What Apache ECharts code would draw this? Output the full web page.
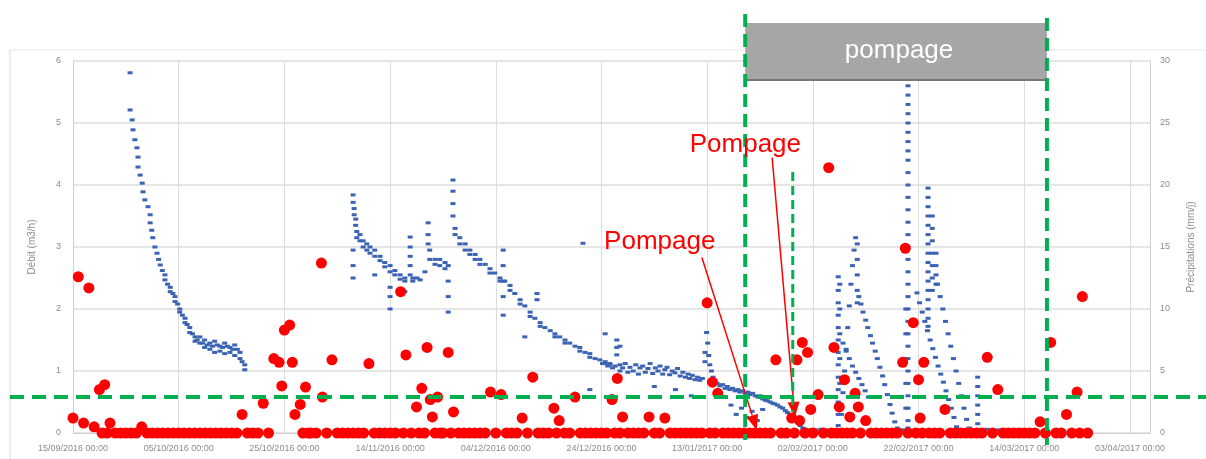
<!DOCTYPE html>
<html>
<head>
<meta charset="utf-8">
<script src="https://cdn.jsdelivr.net/npm/echarts/dist/echarts.min.js"></script>
<style>
  html, body { margin: 0; padding: 0; background: #ffffff; }
  #chart { width: 1206px; height: 459px; }
</style>
</head>
<body>
<div id="chart"></div>
<script>
// x positions are days since the first tick; one tick label every 20 days
const xTickLabels = [
  '15/09/2016 00:00', '05/10/2016 00:00', '25/10/2016 00:00', '14/11/2016 00:00',
  '04/12/2016 00:00', '24/12/2016 00:00', '13/01/2017 00:00', '02/02/2017 00:00',
  '22/02/2017 00:00', '14/03/2017 00:00', '03/04/2017 00:00'
];
const leftTicks = [0, 1, 2, 3, 4, 5, 6];
const rightTicks = [0, 5, 10, 15, 20, 25, 30];

// Flow (m3/h): [day, value]
const flowRecession1 = [
  [10.8,5.81],[10.8,5.21],[11.2,5.05],[11.35,4.89],[11.7,4.73],[12.1,4.6],[12.3,4.45],[12.3,4.29],
  [12.7,4.16],[13.1,4.03],[13.25,3.89],[13.6,3.76],[14.2,3.65],[14.6,3.52],[14.6,3.39],[14.9,3.27],
  [15.1,3.15],[15.5,3.0],[15.9,2.9],[16.2,2.8],[16.5,2.71],[16.9,2.62],[17.4,2.55],[17.4,2.47],
  [17.9,2.4],[18.4,2.35],[18.4,2.28],[18.9,2.25],[19.3,2.2],[19.3,2.12],[19.8,2.08],[20.2,2.0],
  [20.2,1.95],[20.7,1.9],[21.2,1.85],[21.2,1.78],[21.6,1.75],[22.1,1.7],[22.1,1.62],[22.6,1.6],
  [23.1,1.55],[23.1,1.48],[23.5,1.5],[24.0,1.45],[24.0,1.55],[24.5,1.45],[24.9,1.5],[24.9,1.38],
  [25.4,1.42],[25.9,1.45],[25.9,1.35],[26.4,1.4],[26.8,1.48],[26.8,1.3],[27.3,1.42],[27.8,1.4],
  [27.8,1.32],[28.3,1.38],[28.7,1.45],[28.7,1.28],[29.2,1.4],[29.7,1.38],[29.7,1.3],[30.2,1.35],
  [30.6,1.42],[30.6,1.25],[31.1,1.35],[31.6,1.3],[31.6,1.2],[32.0,1.15],[32.5,1.1],[32.5,1.02]
];
const flowRecession2 = [
  [53.0,3.84],[53.0,3.72],[53.2,3.62],[53.2,3.52],[53.5,3.45],[53.5,3.35],[53.7,3.25],[53.7,3.15],
  [54.3,3.2],[54.3,3.1],[54.9,3.1],[54.9,3.0],[55.6,3.05],[55.6,2.95],[56.2,3.0],[56.2,2.9],
  [57.1,2.95],[57.1,2.85],[58.1,2.85],[58.1,2.78],[59.0,2.75],[59.0,2.68],[60.0,2.7],[60.0,2.6],
  [60.9,2.62],[60.9,2.55],[61.9,2.55],[61.9,2.48],[62.8,2.5],[62.8,2.45],[63.8,3.16],[63.8,3.0],
  [63.8,2.85],[63.8,2.7],[63.8,2.55],[64.3,2.5],[64.3,2.45],[65.1,2.5],[65.7,2.47],[66.6,2.6],
  [67.2,3.39],[67.2,3.2],[67.2,3.05],[67.5,2.95],[67.5,2.8],[68.5,2.8],[68.5,2.72],[69.4,2.8],
  [69.4,2.7],[70.4,2.75],[70.4,2.65],[71.0,2.7],[71.9,4.08],[71.9,3.9],[71.9,3.7],[71.9,3.5],
  [72.3,3.3],[72.3,3.2],[73.2,3.15],[73.2,3.05],[74.2,3.05],[74.2,2.95],[75.1,2.95],[75.1,2.88],
  [76.1,2.88],[76.1,2.8],[77.0,2.8],[77.0,2.72],[78.0,2.72],[78.9,2.65],[78.9,2.58],[79.8,2.58],
  [80.8,2.5],[80.8,2.45],[81.7,2.45],[82.7,2.38],[82.7,2.3],[83.6,2.25],[84.6,2.15],[84.6,2.08],
  [85.5,2.05],[86.5,1.95],[86.5,1.88],[87.4,1.85],[88.4,1.78],[88.4,1.72],[89.3,1.7],[90.3,1.65],
  [91.2,1.6],[91.2,1.55],[92.1,1.55],[93.1,1.5],[93.1,1.45],[94.0,1.45],[95.0,1.4],[95.9,1.38],
  [95.9,1.32],[96.9,1.3],[97.8,1.28],[97.8,1.22],[98.8,1.2],[99.7,1.18],[100.7,1.12],[101.6,1.1],
  [102.6,1.08],
  // isolated readings below / above the recession
  [53.0,2.95],[53.0,2.7],[53.0,2.5],[57.1,2.55],[60.0,2.35],[60.0,2.2],[60.0,2.0],[62.8,2.28],
  [71.0,2.45],[71.0,2.2],[71.0,1.95],[81.4,2.95],[81.4,2.7],[81.4,2.45],[81.4,2.2],[81.4,1.9],
  [85.5,1.55],[87.8,2.25],[87.8,2.15],[96.5,3.06],[100.7,1.6],[97.8,0.7],[103.5,1.4]
];
const flowRecession3 = [
  [100.2,1.12],[100.7,1.15],[101.2,1.08],[101.6,1.12],[102.1,1.05],[102.9,1.5],[102.9,1.38],[102.9,1.26],
  [103.5,1.1],[103.5,1.0],[104.0,1.05],[104.5,1.12],[105.0,0.98],[105.4,1.06],[106.0,1.0],[106.5,1.1],
  [107.0,0.95],[107.3,1.05],[107.8,1.08],[108.3,0.98],[108.8,1.04],[109.2,1.12],[109.7,0.96],[110.2,1.05],
  [110.7,1.0],[111.1,1.08],[111.6,0.95],[112.0,1.02],[112.4,1.06],[112.9,0.94],[113.4,1.0],[113.9,0.97],
  [114.4,1.04],[114.9,0.92],[115.4,0.98],[115.9,0.9],[116.4,0.95],[116.7,0.88],[117.2,0.93],[117.7,0.86],
  [118.2,0.9],[118.6,0.85],[119.1,0.88],[119.6,1.3],[119.6,1.15],[119.9,1.62],[120.1,1.45],[120.3,1.25],
  [120.5,1.1],[120.8,1.0],[121.1,0.9],[121.5,0.84],[121.9,0.8],[122.4,0.76],[122.9,0.78],[123.4,0.72],
  [123.8,0.75],[124.3,0.7],[124.8,0.72],[125.3,0.68],[125.8,0.7],[126.2,0.66],[126.7,0.68],[127.2,0.64],
  [127.7,0.66],[128.1,0.62],[128.6,0.64],[129.1,0.6],[129.6,0.58],[130.0,0.6],[130.5,0.55],[131.0,0.53],
  [131.4,0.52],[131.9,0.5],[132.4,0.48],[132.8,0.47],[133.3,0.45],[133.8,0.42],[134.3,0.4],[134.8,0.36],
  [135.2,0.33],[135.7,0.3],[136.2,0.26],[136.6,0.22],[137.1,0.17],[137.6,0.12],[138.1,0.08],[138.6,0.06],
  [139.1,0.05],[139.6,0.05],[140.5,0.05],[141.5,0.06],[142.5,0.05],[143.5,0.05],
  [124.5,0.45],[125.5,0.3],[126.5,0.4],[127.5,0.25],[128.5,0.35],[129.5,0.2],[130.5,0.38],
  [117.0,0.6],[110.0,0.75],[114.0,0.7]
];
const flowPumpingPeaks = [
  // first peak
  [144.8,2.52],[144.8,2.3],[144.8,2.1],[144.8,1.9],[144.8,1.7],[144.8,1.5],[144.8,1.3],[144.8,1.1],
  [144.8,0.9],[144.8,0.7],[144.8,0.5],[144.8,0.3],[144.8,0.12],
  [145.1,2.4],[145.1,2.0],[145.1,1.6],[145.1,1.2],[145.1,0.8],[145.1,0.4],
  [145.4,0.3],[145.7,0.65],[146.0,1.0],[146.3,1.35],[146.6,1.7],[146.9,2.05],[147.2,2.4],[147.5,2.7],
  [147.8,2.95],[148.1,3.15],
  [148.4,3.05],[148.4,2.8],[148.4,2.55],[148.4,2.3],[148.4,2.1],
  [148.7,2.2],[149.1,2.08],[149.5,1.95],[150.0,1.82],[150.4,1.7],[150.9,1.57],[151.3,1.45],[151.8,1.32],
  [152.2,1.2],[152.7,1.06],[153.2,0.92],[153.6,0.78],[154.1,0.62],[154.6,0.46],[155.0,0.32],[155.5,0.18],
  [156.0,0.08],
  [145.7,1.45],[146.3,1.32],[146.9,1.2],[147.5,1.08],[148.1,0.98],[148.7,0.88],[149.3,0.78],[149.9,0.68],
  [150.5,0.58],[156.5,0.05],[157.0,0.05],
  // second peak
  [158.0,5.6],[158.0,5.45],[158.0,5.3],[158.0,5.15],[158.0,5.0],[158.0,4.85],[158.0,4.7],[158.0,4.55],
  [158.0,4.4],[158.0,4.2],[158.0,4.0],[158.0,3.8],[158.0,3.6],[158.0,3.4],[158.0,3.2],[158.0,3.0],
  [158.0,2.8],[158.0,2.6],[158.0,2.4],[158.0,2.2],[158.0,2.0],[158.0,1.8],[158.0,1.6],[158.0,1.4],
  [158.0,1.2],[158.0,1.0],[158.0,0.8],[158.0,0.6],[158.0,0.4],[158.0,0.2],[158.0,0.08],
  [157.6,2.0],[157.6,1.6],[157.6,1.2],[157.6,0.8],[157.6,0.4],
  [161.8,3.95],[161.8,3.8],[161.8,3.65],[161.8,3.5],[161.8,3.35],[161.8,3.2],[161.8,3.05],[161.8,2.9],
  [161.8,2.75],[161.8,2.6],[161.8,2.45],[161.8,2.3],[161.8,2.15],[161.8,2.0],[161.8,1.85],[161.8,1.72],
  [162.6,3.5],[162.6,3.3],[162.6,3.1],[162.6,2.9],[162.6,2.7],[162.6,2.5],[162.6,2.3],
  [163.3,2.9],[163.3,2.7],[163.3,2.55],[163.3,2.4],
  [159.7,2.26],[160.2,2.1],[160.7,1.95],[161.2,1.8],[161.7,1.65],[162.2,1.5],[162.7,1.36],[163.2,1.22],
  [163.7,1.08],[164.2,0.95],[164.7,0.82],[165.2,0.68],[165.7,0.54],[166.2,0.4],[166.7,0.25],[167.2,0.1],
  [163.6,2.4],[164.1,2.2],[164.6,2.0],[165.1,1.8],[165.6,1.6],[166.1,1.4],[166.6,1.2],[167.1,1.0],
  [167.6,0.8],[168.1,0.6],[168.6,0.4],[169.1,0.22],[169.6,0.08],
  // third, small peak and low flow afterwards
  [171.2,0.9],[171.2,0.75],[171.2,0.6],[171.2,0.45],[171.2,0.3],[171.2,0.15],
  [170.0,0.05],[172.0,0.05],[173.0,0.06],[174.0,0.05],[175.0,0.05],[176.0,0.05]
];

// Daily rainfall (mm), day 0 to day 192
const rainDaily = [
  1.2, 12.6, 0.8, 11.7, 0.5, 3.5, 3.9, 0.8, 0, 0,
  0, 0, 0, 0.5, 0, 0, 0, 0, 0, 0,
  0, 0, 0, 0, 0, 0, 0, 0, 0, 0,
  0, 0, 1.5, 0, 0, 0, 2.4, 0, 6.0, 5.7,
  8.3, 8.7, 1.5, 2.3, 3.7, 0, 0, 13.7, 0, 5.9,
  0, 0, 0, 0, 0, 0, 5.6, 0, 0, 0,
  0, 0, 11.4, 6.3, 0, 2.1, 3.6, 6.9, 1.3, 2.9,
  0, 6.5, 1.7, 0, 0, 0, 0, 0, 0, 3.3,
  0, 3.1, 0, 0, 0, 1.2, 0, 4.5, 0, 0,
  0, 2.0, 1.0, 0, 0, 2.9, 0, 0, 0, 0,
  0, 0, 2.7, 4.4, 1.3, 0, 0, 0, 0, 1.3,
  0, 0, 1.2, 0, 0, 0, 0, 0, 0, 0,
  10.5, 4.1, 3.2, 0, 0, 0, 0, 0, 0, 0,
  0, 0, 0, 5.9, 0, 0, 1.2, 5.9, 7.3, 6.5,
  0, 3.1, 0, 21.4, 6.9, 2.1, 4.3, 1.3, 3.2, 0,
  1.0, 0, 0, 0, 0, 0, 0, 5.7, 0, 8.9,
  4.3, 5.7, 0, 0, 0, 1.9, 0, 0, 0, 0,
  0, 0, 0, 6.1, 0, 3.5, 0, 0, 0, 0,
  0, 0, 0, 0.9, 0, 7.3, 0, 0, 1.5, 0,
  3.3, 11.0, 0
];
// Extra readings recorded within the same day: [day, mm]
const rainExtra = [
  [39.5,3.8],[41.5,5.7],[47.2,2.9],[67.6,2.7],[137.5,1.0],[139.6,1.9],[148.6,2.1],[157.5,14.9],[160.3,1.2]
];
// Dry half-day readings on days that also had rain: [day, mm]
const rainDryHalfDays = [
  [5.5,0],[6.5,0],[43.5,0],[44.5,0],[62.5,0],[65.5,0],[66.5,0],[68.5,0],[69.5,0],[71.5,0],
  [91.5,0],[102.5,0],[103.5,0],[120.5,0],[121.5,0],[136.5,0],[138.5,0],[143.5,0],[144.5,0],
  [145.5,0],[146.5,0],[147.5,0],[159.5,0],[160.7,0],[190.5,0]
];

// Pumping period and flow threshold
const pumpStartDay = 127.2;
const pumpEndDay = 184.3;
const secondPumpDay = 136.2;
const flowThreshold = 0.58;
const pumpArrows = [
  { label: 'Pompage', textDay: 100.5, textFlow: 3.08, fromDay: 119.0, fromFlow: 2.83, toDay: 129.4, toFlow: 0.05 },
  { label: 'Pompage', textDay: 116.7, textFlow: 4.65, fromDay: 132.3, fromFlow: 4.44, toDay: 136.6, toFlow: 0.26 }
];

const flowData = [].concat(flowRecession1, flowRecession2, flowRecession3, flowPumpingPeaks);
const rainData = rainDaily.map((v, i) => [i, v]).concat(rainDryHalfDays, rainExtra);

const FONT = '"Liberation Sans", Arial, sans-serif';
const chart = echarts.init(document.getElementById('chart'));

chart.setOption({
  animation: false,
  backgroundColor: '#ffffff',
  grid: { left: 73, right: 56, top: 61, bottom: 26 },
  xAxis: {
    type: 'value', min: 0, max: 203.8, interval: 20,
    axisLine: { show: true, lineStyle: { color: '#d0d0d0' } },
    axisTick: { show: false },
    splitLine: { show: true, lineStyle: { color: '#dcdcdc', width: 1 } },
    axisLabel: {
      color: '#8c8c8c', fontSize: 9, fontFamily: FONT, margin: 11,
      showMaxLabel: false,
      formatter: v => (v % 20 === 0 ? (xTickLabels[v / 20] || '') : '')
    }
  },
  yAxis: [
    {
      type: 'value', min: 0, max: 6, interval: 1, position: 'left',
      name: 'Débit (m3/h)', nameLocation: 'middle', nameGap: 36,
      nameTextStyle: { color: '#8c8c8c', fontSize: 10, fontFamily: FONT },
      axisLine: { show: true, lineStyle: { color: '#d0d0d0' } },
      axisTick: { show: false },
      splitLine: { show: true, lineStyle: { color: '#dcdcdc', width: 1.5 } },
      axisLabel: { color: '#8c8c8c', fontSize: 9, fontFamily: FONT, margin: 12,
        formatter: v => (leftTicks.includes(v) ? String(v) : '') }
    },
    {
      type: 'value', min: 0, max: 30, interval: 5, position: 'right',
      name: 'Précipitations (mm/j)', nameLocation: 'middle', nameGap: 36,
      nameTextStyle: { color: '#8c8c8c', fontSize: 10, fontFamily: FONT },
      axisLine: { show: true, lineStyle: { color: '#d0d0d0' } },
      axisTick: { show: false },
      splitLine: { show: false },
      axisLabel: { color: '#8c8c8c', fontSize: 9, fontFamily: FONT, margin: 10,
        formatter: v => (rightTicks.includes(v) ? String(v) : '') }
    }
  ],
  series: [
    {
      name: 'Débit', type: 'scatter', yAxisIndex: 0, data: flowData,
      symbol: 'rect', symbolSize: [5, 3],
      itemStyle: { color: '#3a63b3', opacity: 1 }, z: 2
    },
    {
      name: 'Précipitations', type: 'scatter', yAxisIndex: 1, data: rainData,
      symbol: 'circle', symbolSize: 11,
      itemStyle: { color: '#ff0000', opacity: 1 }, z: 3
    }
  ]
});

// Annotations: pumping period box, thresholds and arrows
function px(day, flow) { return chart.convertToPixel({ xAxisIndex: 0, yAxisIndex: 0 }, [day, flow]); }

function arrow(x1, y1, x2, y2) {
  const a = Math.atan2(y2 - y1, x2 - x1), L = 15, W = 6;
  const bx = x2 - L * Math.cos(a), by = y2 - L * Math.sin(a);
  const ox = -Math.sin(a) * W, oy = Math.cos(a) * W;
  return [
    { type: 'line', z: 100, shape: { x1: x1, y1: y1, x2: bx, y2: by }, style: { stroke: '#ff0000', lineWidth: 1.5 } },
    { type: 'polygon', z: 100, shape: { points: [[x2, y2], [bx + ox, by + oy], [bx - ox, by - oy]] }, style: { fill: '#ff0000' } }
  ];
}

const xs = px(pumpStartDay, 0)[0];
const xe = px(pumpEndDay, 0)[0];
const x2 = px(secondPumpDay, 0)[0];
const yThr = px(0, flowThreshold)[1];
const green = '#00b050';

const graphics = [
  { type: 'line', z: 90, shape: { x1: 10, y1: 50, x2: 10, y2: 459 }, style: { stroke: '#d9d9d9', lineWidth: 1 } },
  { type: 'line', z: 90, shape: { x1: 10, y1: 50, x2: 1206, y2: 50 }, style: { stroke: '#e6e6e6', lineWidth: 1 } },
  { type: 'rect', z: 100, shape: { x: xs, y: 23, width: xe - xs, height: 57 }, style: { fill: '#a6a6a6' } },
  { type: 'line', z: 100, shape: { x1: xs, y1: 80, x2: xe, y2: 80 }, style: { stroke: '#767676', lineWidth: 2 } },
  { type: 'text', z: 101, x: (xs + xe) / 2 + 3, y: 51,
    style: { text: 'pompage', fill: '#ffffff', font: '26px ' + FONT, textAlign: 'center', textVerticalAlign: 'middle' } },
  { type: 'line', z: 102, shape: { x1: 10, y1: yThr, x2: 1206, y2: yThr },
    style: { stroke: green, lineWidth: 4, lineDash: [14, 8] } },
  { type: 'line', z: 102, shape: { x1: xs, y1: 14, x2: xs, y2: 440 },
    style: { stroke: green, lineWidth: 4, lineDash: [13, 7] } },
  { type: 'line', z: 102, shape: { x1: xe, y1: 18, x2: xe, y2: 445 },
    style: { stroke: green, lineWidth: 4, lineDash: [13, 7] } },
  { type: 'line', z: 102, shape: { x1: x2, y1: 172, x2: x2, y2: 412 },
    style: { stroke: green, lineWidth: 3, lineDash: [9, 5] } }
];

pumpArrows.forEach(p => {
  const t = px(p.textDay, p.textFlow);
  graphics.push({ type: 'text', z: 103, x: t[0], y: t[1],
    style: { text: p.label, fill: '#ff0000', font: '26px ' + FONT, textAlign: 'left', textVerticalAlign: 'middle' } });
  const f = px(p.fromDay, p.fromFlow), e = px(p.toDay, p.toFlow);
  arrow(f[0], f[1], e[0], e[1]).forEach(g => graphics.push(g));
});

chart.setOption({ graphic: graphics });
</script>
</body>
</html>
